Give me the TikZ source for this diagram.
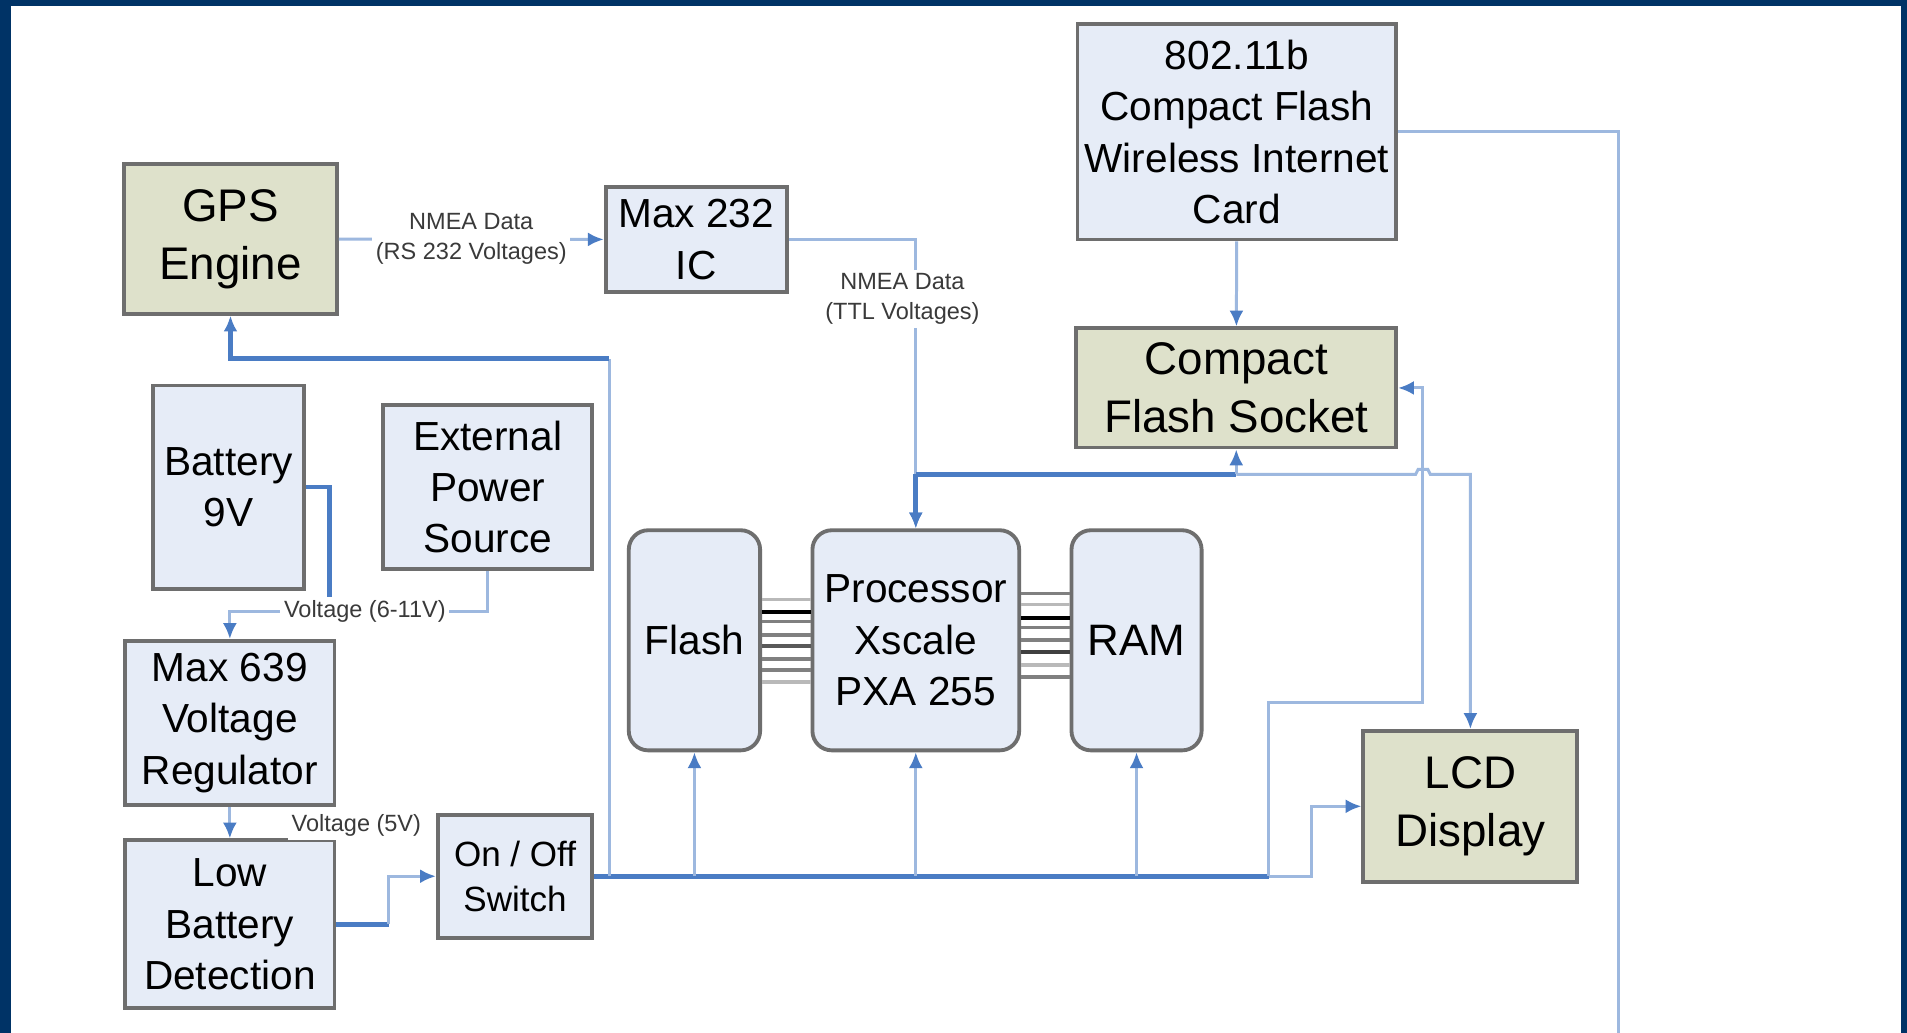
\documentclass[tikz,border=0pt]{standalone}
\usepackage{fontspec}
\setmainfont{Liberation Sans}
\usetikzlibrary{arrows.meta}
\definecolor{navy}{HTML}{003366}
\definecolor{boxblue}{HTML}{E6ECF7}
\definecolor{boxolive}{HTML}{DEE1CB}
\definecolor{boxgray}{HTML}{6E6E6E}
\definecolor{wirebl}{HTML}{4A7CC4}
\definecolor{wirelt}{HTML}{9DB8DF}
\definecolor{lblgray}{HTML}{3A3A3A}
\begin{document}
\begin{tikzpicture}[x=0.1mm, y=0.1mm]
\tikzset{ >={Latex[length=1.3mm,width=1.15mm,color=wirebl]},
  blk/.style={draw=boxgray, line width=0.9pt, fill=boxblue, align=center, inner sep=0pt,
    font=\fontsize{9.5}{12}\selectfont},
  olv/.style={blk, fill=boxolive, font=\fontsize{10.7}{13.5}\selectfont},
  rnd/.style={blk, rounded corners=1.6mm},
  lbl/.style={font=\fontsize{5.5}{7}\selectfont, align=center, text=lblgray, fill=white, inner sep=0.3mm},
  wire/.style={draw=wirelt, line width=0.7pt},
  bus/.style={draw=wirebl, line width=1.1pt},
}

\fill [navy] (0,0) rectangle (1568,849);
\fill [white] (9,0) rectangle (1563,844);
\useasboundingbox (0,0) rectangle (1568,849);

\node [olv, minimum width=17.5mm, minimum height=12.3mm] (GPS) at (189.5,652.5) {GPS\\Engine};
\node [blk, minimum width=14.9mm, minimum height=8.6mm]  (MAX) at (572.5,652) {Max 232\\IC};
\node [blk, minimum width=26.2mm, minimum height=17.7mm] (WIFI) at (1017,740.5) {802.11b\\Compact Flash\\Wireless Internet\\Card};
\node [olv, minimum width=26.3mm, minimum height=9.8mm]  (CFS) at (1016.5,530) {Compact\\Flash Socket};
\node [blk, minimum width=12.4mm, minimum height=16.7mm] (BAT) at (188,448.5) {Battery\\9V};
\node [blk, minimum width=17.2mm, minimum height=13.5mm] (EXT) at (401,448.5) {External\\Power\\Source};
\node [blk, minimum width=17.2mm, minimum height=13.5mm] (REG) at (189,254.5) {Max 639\\Voltage\\Regulator};
\node [blk, minimum width=17.2mm, minimum height=13.8mm] (LBD) at (189,89) {Low\\Battery\\Detection};
\node [blk, minimum width=12.7mm, minimum height=10.1mm, font=\fontsize{8.2}{10.5}\selectfont] (SW) at (423.5,128.5) {On / Off\\Switch};
\node [rnd, minimum width=10.8mm, minimum height=18.1mm] (FL)  at (571,322.5) {Flash};
\node [rnd, minimum width=17mm,   minimum height=18.1mm] (CPU) at (753,322.5) {Processor\\Xscale\\PXA 255};
\node [rnd, minimum width=10.7mm, minimum height=18.1mm, font=\fontsize{10.3}{12}\selectfont] (RAM) at (934.5,322.5) {RAM};
\node [olv, minimum width=17.6mm, minimum height=12.4mm] (LCD) at (1209,186) {LCD\\Display};

\coordinate (J1) at (753,459);
\coordinate (PJ) at (1043,128.5);
\coordinate (E1) at (1331,0);
\coordinate (BJ) at (271,354);

\draw [wire,->] (GPS) -- node [lbl] (NR) {NMEA Data\\(RS 232 Voltages)} (MAX);
\draw [wire,->] (MAX.east) -| (CPU.north);
\node [lbl] (NT) at (742,603) {NMEA Data\\(TTL Voltages)};
\draw [bus,->] (J1) -- (CPU.north);

\draw [wire,->] (WIFI) -- (CFS);
\draw [wire] (WIFI.east) -| (E1);

\draw [bus] (J1) -- (J1 -| CFS.south);
\draw [wire,->] (J1 -| CFS.south) -- (CFS.south);
\draw [wire,->] (J1 -| CFS.south) -- (1164,459) -- (1166,463) -- (1174,463) -- (1176,459) -| (LCD.north);

\draw [bus] (SW.east) -- (PJ);
\draw [wire,->] (PJ) -- (1078,128.5) |- (LCD.west);
\draw [wire,->] (SW.east -| FL.south) -- (FL.south);
\draw [wire,->] (SW.east -| CPU.south) -- (CPU.south);
\draw [wire,->] (SW.east -| RAM.south) -- (RAM.south);
\draw [wire] (SW.east -| 501,0) -- (501,554);
\draw [bus,->] (501,554) -| (GPS.south);
\draw [wire,->] (PJ) |- (1170,271) |- (CFS.east);

\draw [bus] (BAT.east) -| (BJ);
\draw [wire] (EXT.south) |- (300,346);
\node [lbl] (V611) at (300,346) {Voltage (6-11V)};
\draw [wire,->] (V611.west) -| (REG.north);

\draw [wire,->] (REG) -- (LBD);
\node [lbl] (V5) at (293,170) {Voltage (5V)};

\draw [bus] (LBD.east) -- ++(43,0) coordinate (LJ);
\draw [wire,->] (LJ) |- (SW.west);

\foreach \y/\c in {356/gray!55, 346/black, 338/gray, 327/gray, 318/gray!70!black, 307/gray, 298/gray, 288/gray!55}
  \draw [\c, line width=0.9pt] (FL.east |- 0,\y) -- (CPU.west |- 0,\y);
\foreach \y/\c in {361/gray, 352/gray!55, 341/black, 333/gray, 323/gray, 313/black!75, 302/gray!55, 292/gray}
  \draw [\c, line width=0.9pt] (CPU.east |- 0,\y) -- (RAM.west |- 0,\y);

\end{tikzpicture}
\end{document}
